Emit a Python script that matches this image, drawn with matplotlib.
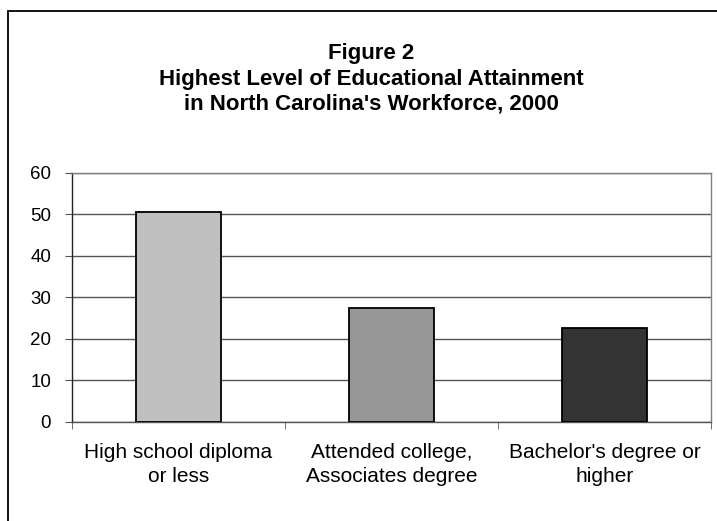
import matplotlib
matplotlib.use("Agg")
import matplotlib.pyplot as plt
from matplotlib.patches import Rectangle

categories = ["High school diploma\nor less", "Attended college,\nAssociates degree", "Bachelor's degree or\nhigher"]
values = [50.5, 27.4, 22.6]
bar_colors = ["#c0c0c0", "#969696", "#333333"]
y_ticks = [0, 10, 20, 30, 40, 50, 60]
title_lines = ["Figure 2", "Highest Level of Educational Attainment", "in North Carolina's Workforce, 2000"]

plt.rcParams['font.family'] = ['Liberation Sans', 'DejaVu Sans']

W, H = 717, 521
fig = plt.figure(figsize=(W / 100, H / 100), dpi=100)
fig.patch.set_facecolor("white")

# outer chart border (right/bottom beyond the image)
fig.add_artist(Rectangle((7.5 / W, -0.1), 1.2, 1.1 - 10.5 / H + 0.0, transform=fig.transFigure,
                         fill=False, edgecolor="black", linewidth=1.3))

ax = fig.add_axes([72 / W, (H - 422) / H, (711 - 72) / W, (422 - 172.5) / H])
x = list(range(len(categories)))
ax.bar(x, values, width=0.4, color=bar_colors, edgecolor="black", linewidth=1.3, zorder=3)
ax.set_xlim(-0.5, len(categories) - 0.5)
ax.set_ylim(0, 60)
ax.set_yticks(y_ticks)
ax.set_yticklabels([str(t) for t in y_ticks], fontsize=13.5)
ax.yaxis.grid(True, color="#555555", linewidth=1.0, zorder=0)
ax.set_axisbelow(True)

ax.set_xticks(x)
ax.set_xticklabels(categories, fontsize=15, linespacing=1.35)
ax.tick_params(axis="x", length=0, pad=15)
ax.set_xticks([i + 0.5 for i in range(-1, len(categories))], minor=True)
ax.tick_params(axis="x", which="minor", length=5, color="#555555", direction="out")
ax.tick_params(axis="y", length=5, color="#555555", direction="out", pad=10)

for s in ["top", "right"]:
    ax.spines[s].set_color("#808080")
    ax.spines[s].set_linewidth(1.0)
ax.spines["left"].set_color("#222222")
ax.spines["bottom"].set_color("#555555")
ax.spines["left"].set_linewidth(1.0)
ax.spines["bottom"].set_linewidth(1.0)

cx = 371 / W
for i, (line, yy) in enumerate(zip(title_lines, [54, 79, 104])):
    fig.text(cx, 1 - yy / H, line, ha="center", va="center", fontsize=16, fontweight="bold")

fig.savefig("out.png", dpi=100)
